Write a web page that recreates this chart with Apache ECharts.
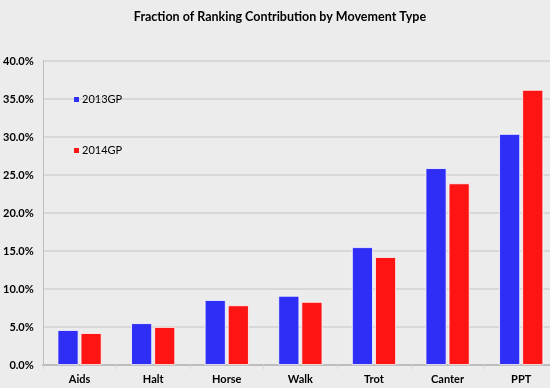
<!DOCTYPE html>
<html><head><meta charset="utf-8">
<script src="https://cdn.jsdelivr.net/npm/echarts@6/dist/echarts.min.js"></script>
<style>html,body{margin:0;padding:0;background:#ececec;overflow:hidden;}#c{width:560px;height:388px;}</style>
</head><body><div id="c"></div>
<script>
const categories = ['Aids','Halt','Horse','Walk','Trot','Canter','PPT'];
const gp2013 = [4.6, 5.5, 8.55, 9.1, 15.5, 25.9, 30.4];
const gp2014 = [4.2, 5.0, 7.85, 8.3, 14.2, 23.9, 36.2];
const seriesNames = ['2013GP','2014GP'];

const chart = echarts.init(document.getElementById('c'), null, {renderer:'canvas'});
const font = 'Lato, "Open Sans", sans-serif';
chart.setOption({
  backgroundColor:'#ececec',
  animation:false,
  title:{text:'Fraction of Ranking Contribution by Movement Type', left:275, textAlign:'center', top:5,
    textStyle:{fontFamily:font, fontWeight:'bold', fontSize:12.5, color:'#000'}},
  legend:{orient:'vertical', left:69, top:89, itemGap:40, itemWidth:5, itemHeight:5, icon:'rect',
    itemStyle:{borderWidth:0},
    textStyle:{fontFamily:font, fontSize:11, color:'#000', padding:[0,0,0,-2]}},
  grid:{left:41, top:61, right:2, bottom:23, containLabel:false},
  xAxis:{type:'category', data:categories,
    axisLine:{lineStyle:{color:'#bdbdbd', width:2}},
    axisTick:{show:true, length:4, lineStyle:{color:'#d8d8d8'}},
    axisLabel:{fontFamily:font, fontWeight:'bold', fontSize:11, color:'#000', margin:9}},
  yAxis:{type:'value', min:0, max:40, interval:5,
    axisLine:{show:true, lineStyle:{color:'#bdbdbd', width:1}},
    axisTick:{show:false},
    splitLine:{lineStyle:{color:'#d2d2d2', width:1.5}},
    axisLabel:{fontFamily:font, fontWeight:'bold', fontSize:11, color:'#000', margin:9,
      formatter:v=>v.toFixed(1)+'%'}},
  series:[
    {name:seriesNames[0], type:'bar', data:gp2013, barWidth:21, barGap:'10%',
      itemStyle:{color:'#2e2ef6', borderColor:'#fdfdfd', borderWidth:0.8}},
    {name:seriesNames[1], type:'bar', data:gp2014, barWidth:21, barGap:'10%',
      itemStyle:{color:'#ff1414', borderColor:'#fdfdfd', borderWidth:0.8}}
  ]
});
</script></body></html>
